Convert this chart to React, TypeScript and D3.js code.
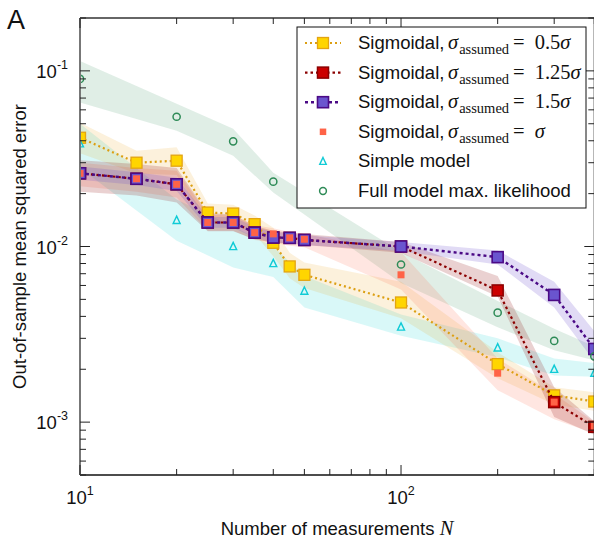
import React from "react";
import * as d3 from "d3";

// Sample sizes
const N_SIGMOID = [10, 15, 20, 25, 30, 35, 40, 45, 50, 100, 200, 300, 400];
const N_SIMPLE = [10, 20, 30, 40, 50, 100, 200, 300, 400];
const N_FULL = [10, 20, 30, 40, 100, 200, 300, 400];

// Sigmoidal, sigma_assumed = 0.5 sigma
const sig05 = [0.0416, 0.030, 0.0308, 0.0156, 0.0154, 0.0134, 0.0105, 0.0077, 0.0069, 0.0048, 0.00214, 0.00142, 0.00131];
const sig05Hi = [0.0506, 0.0351, 0.0367, 0.0176, 0.0173, 0.0150, 0.0128, 0.0092, 0.0081, 0.0063, 0.0025, 0.00158, 0.00148];
const sig05Lo = [0.034, 0.026, 0.0255, 0.0137, 0.0135, 0.0118, 0.0088, 0.0066, 0.0058, 0.0039, 0.00178, 0.00126, 0.00116];

// Sigmoidal, sigma_assumed = 1.25 sigma
const sig125 = [0.0261, 0.0243, 0.0226, 0.0137, 0.0137, 0.0120, 0.01125, 0.0112, 0.0109, 0.0100, 0.00562, 0.0013, 0.00094];
const sig125Hi = [0.031, 0.0295, 0.028, 0.0155, 0.0152, 0.0131, 0.0123, 0.0120, 0.0118, 0.0106, 0.0068, 0.00158, 0.00101];
const sig125Lo = [0.0205, 0.0195, 0.0178, 0.0122, 0.0122, 0.0110, 0.0105, 0.0104, 0.0102, 0.0092, 0.0052, 0.00107, 0.00085];

// Sigmoidal, sigma_assumed = 1.5 sigma
const sig15 = [0.0261, 0.0243, 0.0226, 0.0137, 0.0137, 0.0120, 0.01125, 0.0112, 0.0109, 0.0100, 0.0087, 0.0053, 0.00261];
const sig15Hi = [0.0285, 0.0265, 0.0246, 0.0147, 0.0147, 0.0129, 0.0121, 0.0119, 0.0116, 0.0106, 0.0095, 0.0063, 0.0033];
const sig15Lo = [0.0240, 0.0224, 0.0207, 0.0128, 0.0128, 0.0112, 0.0105, 0.0104, 0.0102, 0.0094, 0.0079, 0.0045, 0.00222];

// Sigmoidal, sigma_assumed = sigma
const sig1 = [0.0261, 0.0243, 0.0226, 0.0137, 0.0137, 0.0120, 0.0118, 0.0112, 0.0110, 0.0069, 0.0019, 0.0013, 0.00095];
const sig1Hi = [0.0300, 0.028, 0.027, 0.0152, 0.015, 0.0132, 0.0127, 0.0121, 0.0118, 0.0093, 0.0023, 0.00145, 0.00100];
const sig1Lo = [0.022, 0.0205, 0.019, 0.0123, 0.0123, 0.0109, 0.0105, 0.0101, 0.0099, 0.0057, 0.00152, 0.00104, 0.00086];

// Simple model
const simple = [0.0385, 0.0141, 0.0100, 0.0080, 0.00557, 0.00348, 0.00265, 0.0020, 0.0019];
const simpleHi = [0.050, 0.0185, 0.0130, 0.0100, 0.0068, 0.0041, 0.0030, 0.0023, 0.00217];
const simpleLo = [0.028, 0.0108, 0.0076, 0.0067, 0.0045, 0.0031, 0.00234, 0.00184, 0.00181];

// Full model, maximum likelihood
const full = [0.090, 0.0548, 0.0397, 0.0234, 0.0079, 0.0042, 0.0029, 0.00237];
const fullHi = [0.114, 0.065, 0.0468, 0.0263, 0.0093, 0.0049, 0.0034, 0.0027];
const fullLo = [0.066, 0.0456, 0.0329, 0.0203, 0.0062, 0.00347, 0.00257, 0.00225];

const X_TICKS = [10, 100];
const Y_TICKS = [1e-3, 1e-2, 1e-1];
const X_TICK_EXP = ["1", "2"];
const Y_TICK_EXP = ["-3", "-2", "-1"];

const W = 594;
const H = 540;
const M = { left: 80, top: 18, right: 594.3, bottom: 475 };

const SANS = "'Liberation Sans', Arial, Helvetica, sans-serif";
const SERIF = "'Liberation Serif', 'Times New Roman', serif";
const LEG_FS = 18.5;

const x = d3.scaleLog().domain([10, 400]).range([M.left, M.right]);
const y = d3.scaleLog().domain([5e-4, 0.2]).range([M.bottom, M.top]);

type Pt = { n: number; v: number; lo: number; hi: number };
const zip = (ns: number[], v: number[], lo: number[], hi: number[]): Pt[] =>
  ns.map((n, i) => ({ n, v: v[i], lo: lo[i], hi: hi[i] }));

const bandPath = d3
  .area<Pt>()
  .x((d) => x(d.n))
  .y0((d) => y(d.lo))
  .y1((d) => y(d.hi));
const linePath = d3
  .line<Pt>()
  .x((d) => x(d.n))
  .y((d) => y(d.v));

const S05 = zip(N_SIGMOID, sig05, sig05Lo, sig05Hi);
const S125 = zip(N_SIGMOID, sig125, sig125Lo, sig125Hi);
const S15 = zip(N_SIGMOID, sig15, sig15Lo, sig15Hi);
const S1 = zip(N_SIGMOID, sig1, sig1Lo, sig1Hi);
const SIMPLE = zip(N_SIMPLE, simple, simpleLo, simpleHi);
const FULL = zip(N_FULL, full, fullLo, fullHi);

const C = {
  gold: "#FFD500",
  goldEdge: "#E3A412",
  goldLine: "#DC9F12",
  red: "#CC0000",
  redEdge: "#8B0000",
  purple: "#6A55CF",
  purpleEdge: "#4B0A86",
  coral: "#FF6347",
  cyan: "#10CBD6",
  green: "#2E8B57",
};

const Square = ({ cx, cy, s, fill, stroke, sw }: any) => (
  <rect x={cx - s / 2} y={cy - s / 2} width={s} height={s} fill={fill} stroke={stroke} strokeWidth={sw} />
);

const Tri = ({ cx, cy, s, stroke }: any) => {
  const h = s * 0.9;
  return (
    <path
      d={`M${cx},${cy - h / 2 - 1} L${cx + s / 2},${cy + h / 2} L${cx - s / 2},${cy + h / 2} Z`}
      fill="none"
      stroke={stroke}
      strokeWidth={1.4}
    />
  );
};

const minorX: number[] = [];
for (const dec of [10, 100]) for (let k = 2; k <= 9; k++) if (dec * k <= 400) minorX.push(dec * k);
const minorY: number[] = [];
for (const dec of [1e-4, 1e-3, 1e-2, 1e-1]) for (let k = 2; k <= 9; k++) {
  const v = dec * k;
  if (v >= 5e-4 && v <= 0.2) minorY.push(v);
}

function SigmaLabel({ x0, yb, rhs }: { x0: number; yb: number; rhs: string | null }) {
  return (
    <text x={x0} y={yb} fontFamily={SANS} fontSize={LEG_FS} fill="#111">
      Sigmoidal,
      <tspan x={x0 + 90} fontFamily={SERIF} fontStyle="italic" fontSize={20.5}>σ</tspan>
      <tspan fontFamily={SERIF} fontSize={14.5} dy={5} dx={1}>assumed</tspan>
      <tspan fontFamily={SERIF} fontSize={20.5} dy={-5} dx={4}>=</tspan>
      {rhs !== null && (
        <tspan fontFamily={SERIF} fontSize={20.5} dx={10}>{rhs}</tspan>
      )}
      <tspan fontFamily={SERIF} fontStyle="italic" fontSize={20.5} dx={rhs === null ? 10 : 0}>σ</tspan>
    </text>
  );
}

export default function App() {
  const legendX = 297;
  const legendY = 27;
  const rowY = (i: number) => 43 + i * 29.6;
  const sampleX0 = 305;
  const sampleX1 = 341;
  const markX = 323;
  const textX = 358;

  return (
    <svg
      width={W}
      height={H}
      viewBox={`0 0 ${W} ${H}`}
      style={{ position: "absolute", left: 0, top: 0, background: "#fff" }}
    >
      <defs>
        <clipPath id="plotArea">
          <rect x={M.left} y={M.top} width={M.right - M.left} height={M.bottom - M.top} />
        </clipPath>
      </defs>
      <rect width={W} height={H} fill="#fff" />

      <g clipPath="url(#plotArea)">
        {/* uncertainty bands */}
        <path d={bandPath(FULL) ?? ""} fill={C.green} fillOpacity={0.15} />
        <path d={bandPath(SIMPLE) ?? ""} fill="#00CED1" fillOpacity={0.15} />
        <path d={bandPath(S05) ?? ""} fill="#E8A317" fillOpacity={0.15} />
        <path d={bandPath(S1) ?? ""} fill={C.coral} fillOpacity={0.16} />
        <path d={bandPath(S125) ?? ""} fill={C.redEdge} fillOpacity={0.18} />
        <path d={bandPath(S15) ?? ""} fill="#6A4ACD" fillOpacity={0.2} />

        {/* 0.5 sigma */}
        <path d={linePath(S05) ?? ""} fill="none" stroke={C.goldLine} strokeWidth={2.2} strokeDasharray="2,3" />
        {S05.map((d, i) => (
          <Square key={"g" + i} cx={x(d.n)} cy={y(d.v)} s={11} fill={C.gold} stroke={C.goldEdge} sw={1.3} />
        ))}

        {/* 1.25 sigma */}
        <path d={linePath(S125) ?? ""} fill="none" stroke={C.redEdge} strokeWidth={2.2} strokeDasharray="2.5,3" />
        {S125.map((d, i) => (
          <Square key={"r" + i} cx={x(d.n)} cy={y(d.v)} s={11} fill={C.red} stroke={C.redEdge} sw={1.5} />
        ))}

        {/* 1.5 sigma */}
        <path d={linePath(S15) ?? ""} fill="none" stroke={C.purpleEdge} strokeWidth={2.4} strokeDasharray="3,3" />
        {S15.map((d, i) => (
          <Square key={"p" + i} cx={x(d.n)} cy={y(d.v)} s={11} fill={C.purple} stroke={C.purpleEdge} sw={1.6} />
        ))}

        {/* sigma */}
        {S1.map((d, i) => (
          <Square key={"c" + i} cx={x(d.n)} cy={y(d.v)} s={7} fill={C.coral} stroke="none" sw={0} />
        ))}

        {/* simple model */}
        {SIMPLE.map((d, i) => (
          <Tri key={"t" + i} cx={x(d.n)} cy={y(d.v)} s={7} stroke={C.cyan} />
        ))}

        {/* full model */}
        {FULL.map((d, i) => (
          <circle key={"o" + i} cx={x(d.n)} cy={y(d.v)} r={3.6} fill="none" stroke={C.green} strokeWidth={1.5} />
        ))}
      </g>

      {/* frame */}
      <line x1={M.left} x2={M.right} y1={M.top} y2={M.top} stroke="#333" strokeWidth={1.3} />
      <line x1={M.left} x2={M.right} y1={M.bottom} y2={M.bottom} stroke="#111" strokeWidth={1.4} />
      <line x1={M.right} x2={M.right} y1={M.top} y2={M.bottom} stroke="#333" strokeWidth={1.3} />
      <line x1={M.left} x2={M.left} y1={M.top} y2={M.bottom} stroke="#777" strokeWidth={2} />

      {/* x ticks */}
      {X_TICKS.map((t) => (
        <g key={"xt" + t}>
          <line x1={x(t)} x2={x(t)} y1={M.bottom} y2={M.bottom - 10} stroke="#222" strokeWidth={1} />
          <line x1={x(t)} x2={x(t)} y1={M.top} y2={M.top + 10} stroke="#222" strokeWidth={1} />
        </g>
      ))}
      {minorX.map((t) => (
        <g key={"xm" + t}>
          <line x1={x(t)} x2={x(t)} y1={M.bottom} y2={M.bottom - 6} stroke="#222" strokeWidth={1} />
          <line x1={x(t)} x2={x(t)} y1={M.top} y2={M.top + 6} stroke="#222" strokeWidth={1} />
        </g>
      ))}
      {X_TICKS.map((t, i) => (
        <text key={"xl" + t} x={x(t)} y={504} textAnchor="middle" fontFamily={SANS} fontSize={18.5} fill="#111">
          10
          <tspan fontSize={12.5} dy={-9}>{X_TICK_EXP[i]}</tspan>
        </text>
      ))}

      {/* y ticks */}
      {Y_TICKS.map((t) => (
        <g key={"yt" + t}>
          <line x1={M.left} x2={M.left + 10} y1={y(t)} y2={y(t)} stroke="#222" strokeWidth={1} />
          <line x1={M.right} x2={M.right - 10} y1={y(t)} y2={y(t)} stroke="#222" strokeWidth={1} />
        </g>
      ))}
      {minorY.map((t) => (
        <g key={"ym" + t}>
          <line x1={M.left} x2={M.left + 6} y1={y(t)} y2={y(t)} stroke="#222" strokeWidth={1} />
          <line x1={M.right} x2={M.right - 6} y1={y(t)} y2={y(t)} stroke="#222" strokeWidth={1} />
        </g>
      ))}
      {Y_TICKS.map((t, i) => (
        <text key={"yl" + t} x={68} y={y(t) + 7} textAnchor="end" fontFamily={SANS} fontSize={18.5} fill="#111">
          10
          <tspan fontSize={12.5} dy={-9}>{Y_TICK_EXP[i]}</tspan>
        </text>
      ))}

      {/* axis titles */}
      <text x={337} y={535} textAnchor="middle" fontFamily={SANS} fontSize={18.5} fill="#111">
        Number of measurements{" "}
        <tspan fontFamily={SERIF} fontStyle="italic" fontSize={20.5}>N</tspan>
      </text>
      <text
        transform={`translate(26,${(M.top + M.bottom) / 2}) rotate(-90)`}
        textAnchor="middle"
        fontFamily={SANS}
        fontSize={18.5}
        fill="#111"
      >
        Out-of-sample mean squared error
      </text>

      {/* panel letter */}
      <text x={7} y={29} fontFamily={SANS} fontSize={27} fill="#111">A</text>

      {/* legend */}
      <rect x={legendX} y={legendY} width={289} height={181} fill="#fff" stroke="#111" strokeWidth={1} />
      <g>
        <line x1={sampleX0} x2={sampleX1} y1={rowY(0)} y2={rowY(0)} stroke={C.goldLine} strokeWidth={2.2} strokeDasharray="2,3" />
        <Square cx={markX} cy={rowY(0)} s={11} fill={C.gold} stroke={C.goldEdge} sw={1.3} />
        <SigmaLabel x0={textX} yb={rowY(0) + 6} rhs="0.5" />

        <line x1={sampleX0} x2={sampleX1} y1={rowY(1)} y2={rowY(1)} stroke={C.redEdge} strokeWidth={2.2} strokeDasharray="2.5,3" />
        <Square cx={markX} cy={rowY(1)} s={11} fill={C.red} stroke={C.redEdge} sw={1.5} />
        <SigmaLabel x0={textX} yb={rowY(1) + 6} rhs="1.25" />

        <line x1={sampleX0} x2={sampleX1} y1={rowY(2)} y2={rowY(2)} stroke={C.purpleEdge} strokeWidth={2.4} strokeDasharray="3,3" />
        <Square cx={markX} cy={rowY(2)} s={11} fill={C.purple} stroke={C.purpleEdge} sw={1.6} />
        <SigmaLabel x0={textX} yb={rowY(2) + 6} rhs="1.5" />

        <Square cx={markX} cy={rowY(3)} s={6.5} fill={C.coral} stroke="none" sw={0} />
        <SigmaLabel x0={textX} yb={rowY(3) + 6} rhs={null} />

        <Tri cx={markX} cy={rowY(4)} s={6.5} stroke={C.cyan} />
        <text x={textX} y={rowY(4) + 6} fontFamily={SANS} fontSize={LEG_FS} fill="#111">Simple model</text>

        <circle cx={markX} cy={rowY(5)} r={3.4} fill="none" stroke={C.green} strokeWidth={1.5} />
        <text x={textX} y={rowY(5) + 6} fontFamily={SANS} fontSize={LEG_FS} fill="#111">Full model max. likelihood</text>
      </g>
    </svg>
  );
}
